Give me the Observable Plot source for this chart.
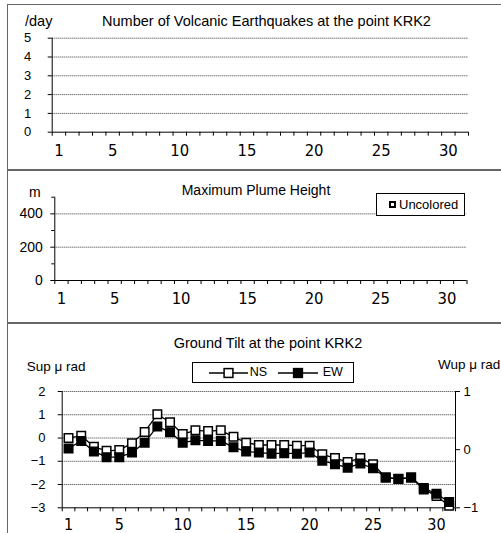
<!DOCTYPE html>
<html>
<head>
<meta charset="utf-8">
<script src="https://cdn.jsdelivr.net/npm/d3@7"></script>
<script src="https://cdn.jsdelivr.net/npm/@observablehq/plot@0.6"></script>
<style>
  html, body { margin: 0; padding: 0; background: #fff; }
  #wrap { position: relative; width: 501px; height: 533px; overflow: hidden; font-family: "Liberation Sans", Arial, sans-serif; color: #000; }
  .panel { position: absolute; left: 6.5px; width: 520px; border: 1.5px solid #666; box-sizing: border-box; box-shadow: 1px 1px 0 #aaa; }
  .txt { position: absolute; white-space: nowrap; line-height: 1; }
  .chart { position: absolute; left: 0; }
  .legend { position: absolute; border: 1px solid #000; background: #fff; box-sizing: border-box; }
</style>
</head>
<body>
<div id="wrap"></div>
<script>
// ---------- data ----------
const days = [1,2,3,4,5,6,7,8,9,10,11,12,13,14,15,16,17,18,19,20,21,22,23,24,25,26,27,28,29,30,31];
const dayLabels = [1,5,10,15,20,25,30];

// Volcanic earthquakes per day (none recorded)
const quakeCounts = [0,0,0,0,0,0,0,0,0,0,0,0,0,0,0,0,0,0,0,0,0,0,0,0,0,0,0,0,0,0,0];
const quakeTicks = [0,1,2,3,4,5];

// Maximum plume height (no observations)
const plumeHeights = [];
const plumeTicks = [0,200,400];
const plumeMinorTicks = [100,300,500];

// Ground tilt (NS: left axis, Sup µrad ; EW: right axis, Wup µrad)
const tiltLeftTicks = [-3,-2,-1,0,1,2];
const tiltRightTicks = [-1,0,1];
const nsTilt = [0.0,0.1,-0.38,-0.55,-0.52,-0.22,0.26,1.02,0.68,0.17,0.33,0.3,0.33,0.05,-0.2,-0.3,-0.3,-0.3,-0.33,-0.33,-0.7,-0.86,-1.03,-0.86,-1.13,-1.7,-1.76,-1.7,-2.21,-2.49,-2.91];
const ewTilt = [0.02,0.15,-0.03,-0.13,-0.13,-0.05,0.12,0.4,0.3,0.12,0.16,0.15,0.15,0.04,-0.03,-0.05,-0.07,-0.06,-0.07,-0.05,-0.19,-0.25,-0.31,-0.24,-0.32,-0.48,-0.5,-0.48,-0.66,-0.76,-0.9];

// ---------- helpers ----------
const wrap = document.getElementById("wrap");
const FONT = "'Liberation Sans', Arial, sans-serif";
const TICKFONT = "'Liberation Sans Narrow', 'DejaVu Sans Condensed', 'Liberation Sans', Arial, sans-serif";
const dayEdges = days.map(d => d - 0.5).concat([days[days.length - 1] + 0.5]);
const xDomain = [dayEdges[0], dayEdges[dayEdges.length - 1]];
const gridStyle = {stroke: "#000", strokeOpacity: 0.8, strokeDasharray: "1,1", strokeWidth: 1};
const baseStyle = {fontFamily: FONT, fontSize: "13px", background: "transparent", overflow: "visible"};
const fmt = d3.format("d");

function el(tag, cls, css, parent) {
  const e = document.createElement(tag);
  if (cls) e.className = cls;
  Object.assign(e.style, css || {});
  (parent || wrap).appendChild(e);
  return e;
}
function text(str, x, yc, size, anchor) {
  const t = el("div", "txt", {fontSize: size + "px", top: (yc - size / 2) + "px"});
  t.textContent = str;
  if (anchor === "middle") { t.style.left = x + "px"; t.style.transform = "translateX(-50%)"; }
  else if (anchor === "end") { t.style.right = (501 - x) + "px"; }
  else { t.style.left = x + "px"; }
  return t;
}
function place(svg, top) {
  svg.classList.add("chart");
  svg.style.top = top + "px";
  wrap.appendChild(svg);
}

// ---------- panel frames ----------
el("div", "panel", {top: "3.5px", height: "166px"});
el("div", "panel", {top: "170px", height: "153px"});
el("div", "panel", {top: "323px", height: "230px"});

// ---------- panel 1: earthquakes ----------
const quakeData = days.map((d, i) => ({day: d, count: quakeCounts[i]}));
place(Plot.plot({
  width: 501, height: 170,
  marginTop: 37.7, marginBottom: 38.3, marginLeft: 51.7, marginRight: 33,
  x: {type: "linear", domain: xDomain},
  y: {domain: [0, 5]},
  style: baseStyle,
  marks: [
    Plot.gridY(quakeTicks.filter(t => t > 0), gridStyle),
    Plot.rectY(quakeData, {x1: d => d.day - 0.35, x2: d => d.day + 0.35, y: "count", fill: "#000"}),
    Plot.ruleX([xDomain[0]], {stroke: "#000"}),
    Plot.ruleY([0], {stroke: "#000"}),
    Plot.axisY({ticks: quakeTicks, tickFormat: fmt, tickSize: 4, tickPadding: 17, fontSize: 13, label: null}),
    Plot.axisX({ticks: dayEdges, tickSize: 4, tickFormat: () => "", label: null}),
    Plot.axisX({ticks: dayLabels, tickFormat: fmt, tickSize: 0, tickPadding: 12, fontSize: 16.5, fontFamily: TICKFONT, label: null})
  ]
}), 0);
text("/day", 25, 21, 14.5, "start");
text("Number of Volcanic Earthquakes at the point KRK2", 266.5, 21, 14.5, "middle");

// ---------- panel 2: plume ----------
place(Plot.plot({
  width: 501, height: 151,
  marginTop: 25.7, marginBottom: 42, marginLeft: 54.3, marginRight: 34.5,
  x: {type: "linear", domain: xDomain},
  y: {domain: [0, 500]},
  style: baseStyle,
  marks: [
    Plot.gridY([200, 400], gridStyle),
    Plot.dot(plumeHeights, {x: "day", y: "height", symbol: "square", r: 4, fill: "#fff", stroke: "#000"}),
    Plot.ruleX([xDomain[0]], {stroke: "#000"}),
    Plot.ruleY([0], {stroke: "#000"}),
    Plot.axisY({ticks: plumeTicks, tickFormat: fmt, tickSize: 4, tickPadding: 8, fontSize: 14, label: null}),
    Plot.axisY({ticks: plumeMinorTicks, tickSize: 3, tickFormat: () => "", label: null}),
    Plot.axisX({ticks: dayEdges, tickSize: 4, tickFormat: () => "", label: null}),
    Plot.axisX({ticks: dayLabels, tickFormat: fmt, tickSize: 0, tickPadding: 12, fontSize: 16.5, fontFamily: TICKFONT, label: null})
  ]
}), 171);
text("m", 29, 191.7, 14, "start");
text("Maximum Plume Height", 256, 190, 14, "middle");
{
  const lg = el("div", "legend", {left: "376px", top: "193.3px", width: "89px", height: "22.4px"});
  el("div", "", {position: "absolute", left: "12px", top: "6.5px", width: "7px", height: "7px", border: "2px solid #000", boxSizing: "border-box", background: "#fff"}, lg);
  const t = el("div", "txt", {left: "22px", top: "4px", fontSize: "13px", fontFamily: FONT}, lg);
  t.textContent = "Uncolored";
}

// ---------- panel 3: tilt ----------
const leftDom = [tiltLeftTicks[0], tiltLeftTicks[tiltLeftTicks.length - 1]];
const rightDom = [tiltRightTicks[0], tiltRightTicks[tiltRightTicks.length - 1]];
const toLeft = d3.scaleLinear().domain(rightDom).range(leftDom);
const toRight = v => toLeft.invert(v);
const nsData = days.map((d, i) => ({day: d, v: nsTilt[i]}));
const ewData = days.map((d, i) => ({day: d, v: toLeft(ewTilt[i])}));
place(Plot.plot({
  width: 501, height: 210,
  marginTop: 68, marginBottom: 25.7, marginLeft: 61.7, marginRight: 46,
  x: {type: "linear", domain: xDomain},
  y: {domain: leftDom},
  style: baseStyle,
  marks: [
    Plot.gridY(tiltLeftTicks.filter(t => t > leftDom[0]), gridStyle),
    Plot.ruleX([xDomain[0], xDomain[1]], {stroke: "#000"}),
    Plot.ruleY([leftDom[0]], {stroke: "#000"}),
    Plot.line(nsData, {x: "day", y: "v", stroke: "#000", strokeWidth: 1.3}),
    Plot.dot(nsData, {x: "day", y: "v", symbol: "square", r: 4.8, fill: "#fff", stroke: "#000", strokeWidth: 1.5}),
    Plot.line(ewData, {x: "day", y: "v", stroke: "#000", strokeWidth: 1.3}),
    Plot.dot(ewData, {x: "day", y: "v", symbol: "square", r: 4.8, fill: "#000", stroke: "#000", strokeWidth: 1.5}),
    Plot.axisY({ticks: tiltLeftTicks, tickFormat: fmt, tickSize: 4, tickPadding: 12.7, fontSize: 13, label: null}),
    Plot.axisY({anchor: "right", ticks: tiltRightTicks.map(toLeft), tickFormat: t => fmt(Math.round(toRight(t))), tickSize: 4, tickPadding: 4, fontSize: 13, label: null}),
    Plot.axisX({ticks: dayEdges, tickSize: 4, tickFormat: () => "", label: null}),
    Plot.axisX({ticks: dayLabels, tickFormat: fmt, tickSize: 0, tickPadding: 10.5, fontSize: 16, fontFamily: TICKFONT, label: null})
  ]
}), 323);
text("Ground Tilt at the point KRK2", 268, 343, 14.5, "middle");
text("Sup \u03bc rad", 26.7, 367, 13.5, "start");
text("Wup \u03bc rad", 438, 365, 13.5, "start");
{
  const lg = el("div", "legend", {left: "191.7px", top: "361.7px", width: "162.3px", height: "21.6px"});
  const ns = "http://www.w3.org/2000/svg";
  const svg = document.createElementNS(ns, "svg");
  svg.setAttribute("width", "160"); svg.setAttribute("height", "20");
  svg.style.position = "absolute"; svg.style.left = "0"; svg.style.top = "0";
  function item(x1, x2, fill) {
    const l = document.createElementNS(ns, "line");
    l.setAttribute("x1", x1); l.setAttribute("x2", x2); l.setAttribute("y1", 10); l.setAttribute("y2", 10);
    l.setAttribute("stroke", "#000"); l.setAttribute("stroke-width", "1.3");
    svg.appendChild(l);
    const r = document.createElementNS(ns, "rect");
    const cx = (x1 + x2) / 2;
    r.setAttribute("x", cx - 4.4); r.setAttribute("y", 5.6); r.setAttribute("width", 8.8); r.setAttribute("height", 8.8);
    r.setAttribute("fill", fill); r.setAttribute("stroke", "#000"); r.setAttribute("stroke-width", "1.5");
    svg.appendChild(r);
  }
  item(16, 55, "#fff");
  item(85, 125, "#000");
  lg.appendChild(svg);
  const t1 = el("div", "txt", {left: "57px", top: "3.5px", fontSize: "12.5px", fontFamily: FONT}, lg); t1.textContent = "NS";
  const t2 = el("div", "txt", {left: "130px", top: "3.5px", fontSize: "12.5px", fontFamily: FONT}, lg); t2.textContent = "EW";
}
</script>
</body>
</html>
